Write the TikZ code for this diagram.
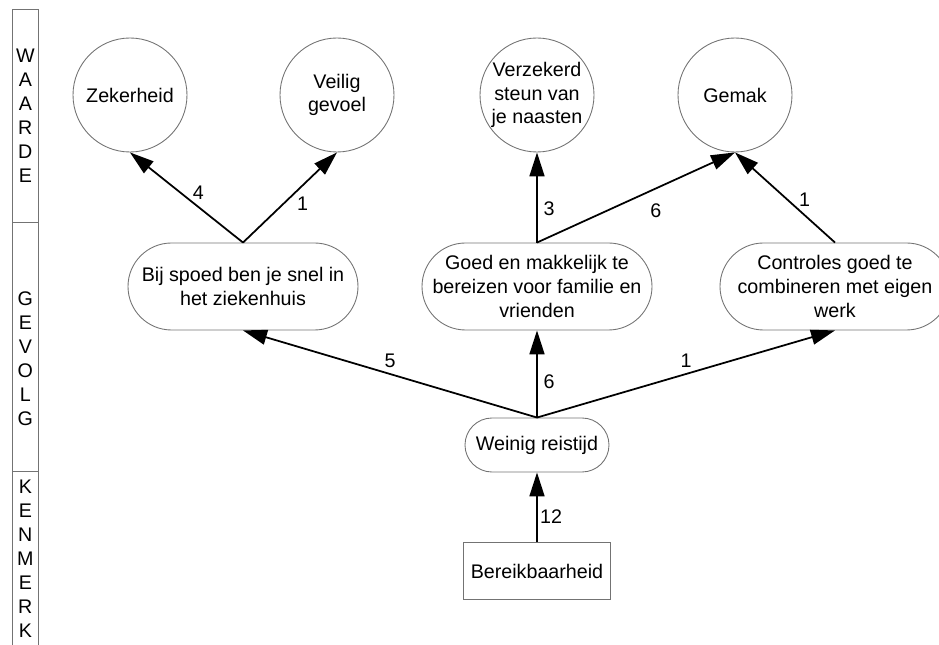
\documentclass[tikz,border=0pt]{standalone}
\usepackage{fontspec}
\setmainfont{Liberation Sans}
\usetikzlibrary{arrows.meta}

\begin{document}
\begin{tikzpicture}[
    every node/.style={font=\fontsize{11.2}{13.4}\selectfont, align=center},
    valcirc/.style={circle, draw=black!55, line width=.5pt, inner sep=0pt, minimum size=2.28cm},
    gevolgbox/.style={draw=black!55, line width=.5pt, rounded corners=.87cm, minimum width=4.6cm, minimum height=1.74cm},
    reisbox/.style={draw=black!55, line width=.5pt, rounded corners=.54cm, minimum width=2.88cm, minimum height=1.08cm},
    kenmerkbox/.style={draw=black!55, line width=.5pt, minimum width=2.94cm, minimum height=1.14cm},
    strip/.style={font=\fontsize{11.2}{13.66}\selectfont},
    arr/.style={-{Triangle[length=.48cm,width=.3cm]}, line width=1pt}
  ]
      \useasboundingbox (0, 0) rectangle (18.78, 12.9);
      \clip (0, 0) rectangle (18.78, 12.9);

      %% left strip
      \draw[black!55, line width=.5pt](.24, -.2) -- (.24, 12.72) -- (.774, 12.72) -- (.774, -.2);
        \draw[black!55, line width=.5pt](.24, 8.446) to (.774, 8.446);
        \draw[black!55, line width=.5pt](.24, 3.466) to (.774, 3.466);
      \node[strip] (waarde) at (.507, 10.59) {W\\A\\A\\R\\D\\E};
      \node[strip] (gevolg) at (.507, 5.73) {G\\E\\V\\O\\L\\G};
      \node[strip] (kenmerk) at (.507, 1.72) {K\\E\\N\\M\\E\\R\\K};

      %% waarden
      \node[valcirc] (zekerheid) at (2.6, 11) {Zekerheid};
      \node[valcirc] (veilig) at (6.74, 11) {Veilig\\gevoel};
      \node[valcirc] (steun) at (10.74, 11) {Verzekerd\\steun van\\je naasten};
      \node[valcirc] (gemak) at (14.7, 11) {Gemak};

      %% gevolgen
      \node[gevolgbox] (spoed) at (4.86, 7.17) {Bij spoed ben je snel in\\het ziekenhuis};
      \node[gevolgbox] (bereizen) at (10.74, 7.17) {Goed en makkelijk te\\bereizen voor familie en\\vrienden};
      \node[gevolgbox] (controles) at (16.7, 7.17) {Controles goed te\\combineren met eigen\\werk};

      %% kenmerk
      \node[reisbox] (reistijd) at (10.74, 4) {Weinig reistijd};
      \node[kenmerkbox] (bereik) at (10.74, 1.48) {Bereikbaarheid};

      %% arrows
      \draw[arr](bereik.north) -- node[pos=.37, right=-2pt]{12} (reistijd.south);

      \draw[arr](reistijd.north) -- node[pos=.5, above]{5} (spoed.south);
      \draw[arr](reistijd.north) -- node[pos=.41, right]{6} (bereizen.south);
      \draw[arr](reistijd.north) -- node[pos=.5, above]{1} (controles.south);

      \draw[arr](spoed.north) -- node[pos=.55, right=3pt]{4} (zekerheid.south);
      \draw[arr](spoed.north) -- node[pos=.43, right=4pt]{1} (veilig.south);
      \draw[arr](bereizen.north) -- node[pos=.37, right]{3} (steun.south);
      \draw[arr](bereizen.north) -- node[pos=.53, below right=1pt]{6} (gemak.south);
      \draw[arr](controles.north) -- node[pos=.48, right=3pt]{1} (gemak.south);

\end{tikzpicture}
\end{document}
